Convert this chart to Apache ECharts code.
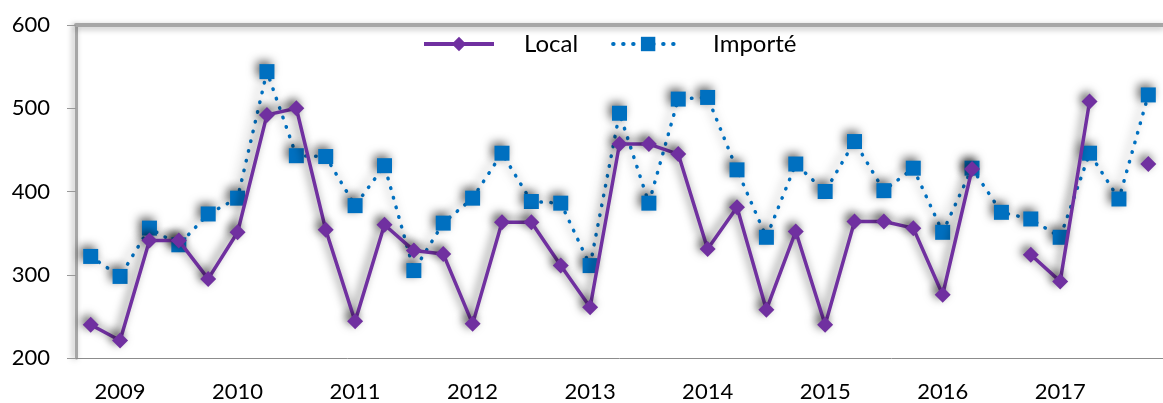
<!DOCTYPE html>
<html>
<head>
<meta charset="utf-8">
<script src="https://cdn.jsdelivr.net/npm/echarts@6/dist/echarts.min.js"></script>
<style>
	html, body { margin: 0; padding: 0; background: #fff; }
	#chart { width: 1163px; height: 403px; }
</style>
</head>
<body>
<div id="chart"></div>
<script>
// quarters, 2008 T4 .. 2017 T4
const quarters = [
	"2008 T4",
	"2009 T1", "2009 T2", "2009 T3", "2009 T4",
	"2010 T1", "2010 T2", "2010 T3", "2010 T4",
	"2011 T1", "2011 T2", "2011 T3", "2011 T4",
	"2012 T1", "2012 T2", "2012 T3", "2012 T4",
	"2013 T1", "2013 T2", "2013 T3", "2013 T4",
	"2014 T1", "2014 T2", "2014 T3", "2014 T4",
	"2015 T1", "2015 T2", "2015 T3", "2015 T4",
	"2016 T1", "2016 T2", "2016 T3", "2016 T4",
	"2017 T1", "2017 T2", "2017 T3", "2017 T4"
];

const local = [
	240, 221, 341, 341, 295, 351, 492, 500, 354, 244,
	360, 329, 325, 241, 363, 363, 311, 261, 457, 457,
	445, 331, 381, 258, 352, 240, 364, 364, 356, 276,
	427, null, 324, 292, 508, null, 433
];

const importe = [
	322, 298, 356, 336, 373, 392, 544, 443, 442, 383,
	431, 305, 362, 392, 446, 388, 386, 311, 494, 386,
	511, 513, 426, 345, 433, 400, 460, 401, 428, 351,
	428, 375, 367, 345, 446, 391, 516
];

const yTicks = { min: 200, max: 600, step: 100 };

const font = "Lato";
const shadow = {
	shadowColor: "rgba(0,0,0,0.6)",
	shadowBlur: 10,
	shadowOffsetX: -3,
	shadowOffsetY: -3
};

const chart = echarts.init(document.getElementById("chart"));

chart.setOption({
	animation: false,
	grid: {
		left: 76,
		top: 25,
		bottom: 45,
		right: -12
	},
	legend: {
		left: 422,
		top: 32,
		padding: 0,
		itemWidth: 70,
		itemHeight: 18,
		itemGap: 33,
		lineStyle: { width: 4, shadowBlur: 0, shadowColor: "transparent" },
		itemStyle: { shadowBlur: 0, shadowColor: "transparent" },
		textStyle: {
			fontFamily: font,
			fontSize: 24,
			color: "#000",
			padding: [0, 0, 0, 25]
		},
		data: ["Local", "Importé"]
	},
	xAxis: [
		{
			type: "category",
			data: quarters,
			boundaryGap: true,
			axisLine: { lineStyle: { color: "#8c8c8c", width: 1 } },
			axisTick: {
				interval: 0,
				length: 8,
				lineStyle: { color: "#8c8c8c" }
			},
			axisLabel: {
				interval: 0,
				margin: 23,
				fontFamily: font,
				fontSize: 22,
				color: "#000",
				formatter: (value) => value.endsWith("T1") ? value.slice(0, 4) : ""
			},
			splitLine: { show: false }
		},
		{
			type: "category",
			data: quarters,
			position: "top",
			axisLine: {
				lineStyle: {
					color: "#a6a6a6",
					width: 4,
					shadowColor: "rgba(0,0,0,0.3)",
					shadowBlur: 6,
					shadowOffsetY: 2
				}
			},
			axisTick: { show: false },
			axisLabel: { show: false }
		}
	],
	yAxis: {
		type: "value",
		min: yTicks.min,
		max: yTicks.max,
		interval: yTicks.step,
		axisLine: {
			show: true,
			lineStyle: {
				color: "#a6a6a6",
				width: 3,
				shadowColor: "rgba(0,0,0,0.35)",
				shadowBlur: 6,
				shadowOffsetX: -2
			}
		},
		axisTick: {
			show: true,
			length: 9,
			lineStyle: { color: "#999" }
		},
		splitLine: { show: false },
		axisLabel: {
			margin: 26,
			fontFamily: font,
			fontSize: 22,
			color: "#000"
		}
	},
	series: [
		{
			name: "Local",
			type: "line",
			data: local,
			connectNulls: false,
			symbol: "diamond",
			symbolSize: 16,
			showAllSymbol: true,
			z: 3,
			lineStyle: { color: "#7030a0", width: 3.5, ...shadow },
			itemStyle: { color: "#7030a0", ...shadow }
		},
		{
			name: "Importé",
			type: "line",
			data: importe,
			symbol: "rect",
			symbolSize: 15,
			showAllSymbol: true,
			z: 2,
			lineStyle: { color: "#0070c0", width: 3.5, type: [0.5, 9.5], cap: "round", ...shadow },
			itemStyle: { color: "#0070c0", ...shadow }
		}
	]
});
</script>
</body>
</html>
